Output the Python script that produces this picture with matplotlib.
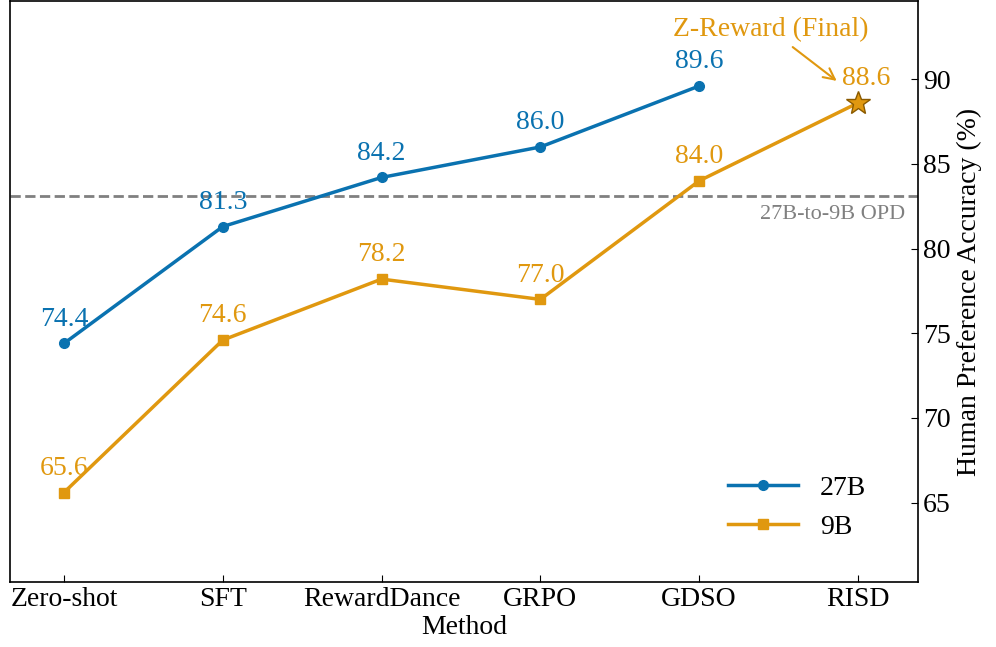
import matplotlib
matplotlib.use("Agg")
import matplotlib.pyplot as plt

methods = ["Zero-shot", "SFT", "RewardDance", "GRPO", "GDSO", "RISD"]
acc_27b = [74.4, 81.3, 84.2, 86.0, 89.6]
acc_9b = [65.6, 74.6, 78.2, 77.0, 84.0, 88.6]
opd_baseline = 83.1

plt.rcParams['font.family'] = ['Liberation Serif', 'DejaVu Serif']
blue = "#0a72b0"
orange = "#e0980f"
fs = 20

fig = plt.figure(figsize=(9.96, 6.47), dpi=100)
ax = fig.add_axes([0.010, 0.100, 0.912, 0.898])
x27 = list(range(len(acc_27b)))
x9 = list(range(len(acc_9b)))
ax.plot(x27, acc_27b, '-o', color=blue, lw=2.5, ms=7, label="27B", zorder=3)
ax.plot(x9[:-1], acc_9b[:-1], '-s', color=orange, lw=2.5, ms=7, label="9B", zorder=3)
ax.plot(x9[-2:], acc_9b[-2:], '-', color=orange, lw=2.5, zorder=3)
ax.plot([x9[-1]], [acc_9b[-1]], marker='*', ms=18, color=orange, mec="#8a5a00", mew=1, zorder=4)
ax.axhline(opd_baseline, ls='--', color='gray', lw=2)
ax.text(5.3, opd_baseline - 0.5, "27B-to-9B OPD", color='gray', fontsize=16, ha='right', va='top')

for x, v in zip(x27, acc_27b):
    ax.text(x, v + 0.7, f"{v:.1f}", color=blue, fontsize=fs, ha='center', va='bottom')
for x, v in zip(x9[:-1], acc_9b[:-1]):
    ax.text(x, v + 0.7, f"{v:.1f}", color=orange, fontsize=fs, ha='center', va='bottom')
ax.text(5.05, acc_9b[-1] + 0.7, f"{acc_9b[-1]:.1f}", color=orange, fontsize=fs, ha='center', va='bottom')
ax.annotate("Z-Reward (Final)", xy=(4.88, acc_9b[-1] + 1.2), xytext=(4.45, 92.9),
            color=orange, fontsize=fs, ha='center', va='center',
            arrowprops=dict(arrowstyle='->', color=orange, lw=1.5))

ax.set_xlim(-0.34, 5.38)
ax.set_ylim(60.3, 94.6)
ax.set_xticks(x9)
ax.set_xticklabels(methods, fontsize=fs)
ax.set_yticks([65, 70, 75, 80, 85, 90])
ax.yaxis.tick_right()
ax.yaxis.set_label_position("right")
ax.tick_params(axis='y', labelsize=fs, direction='in', length=5)
ax.tick_params(axis='x', direction='in', length=5)
ax.set_ylabel("Human Preference Accuracy (%)", fontsize=fs)
ax.set_xlabel("Method", fontsize=fs, labelpad=2)
for s in ax.spines.values():
    s.set_linewidth(1.2)
ax.legend(loc='lower right', fontsize=fs, frameon=False, handlelength=2.5, bbox_to_anchor=(0.97, 0.03))
fig.savefig("out.png", dpi=100)
